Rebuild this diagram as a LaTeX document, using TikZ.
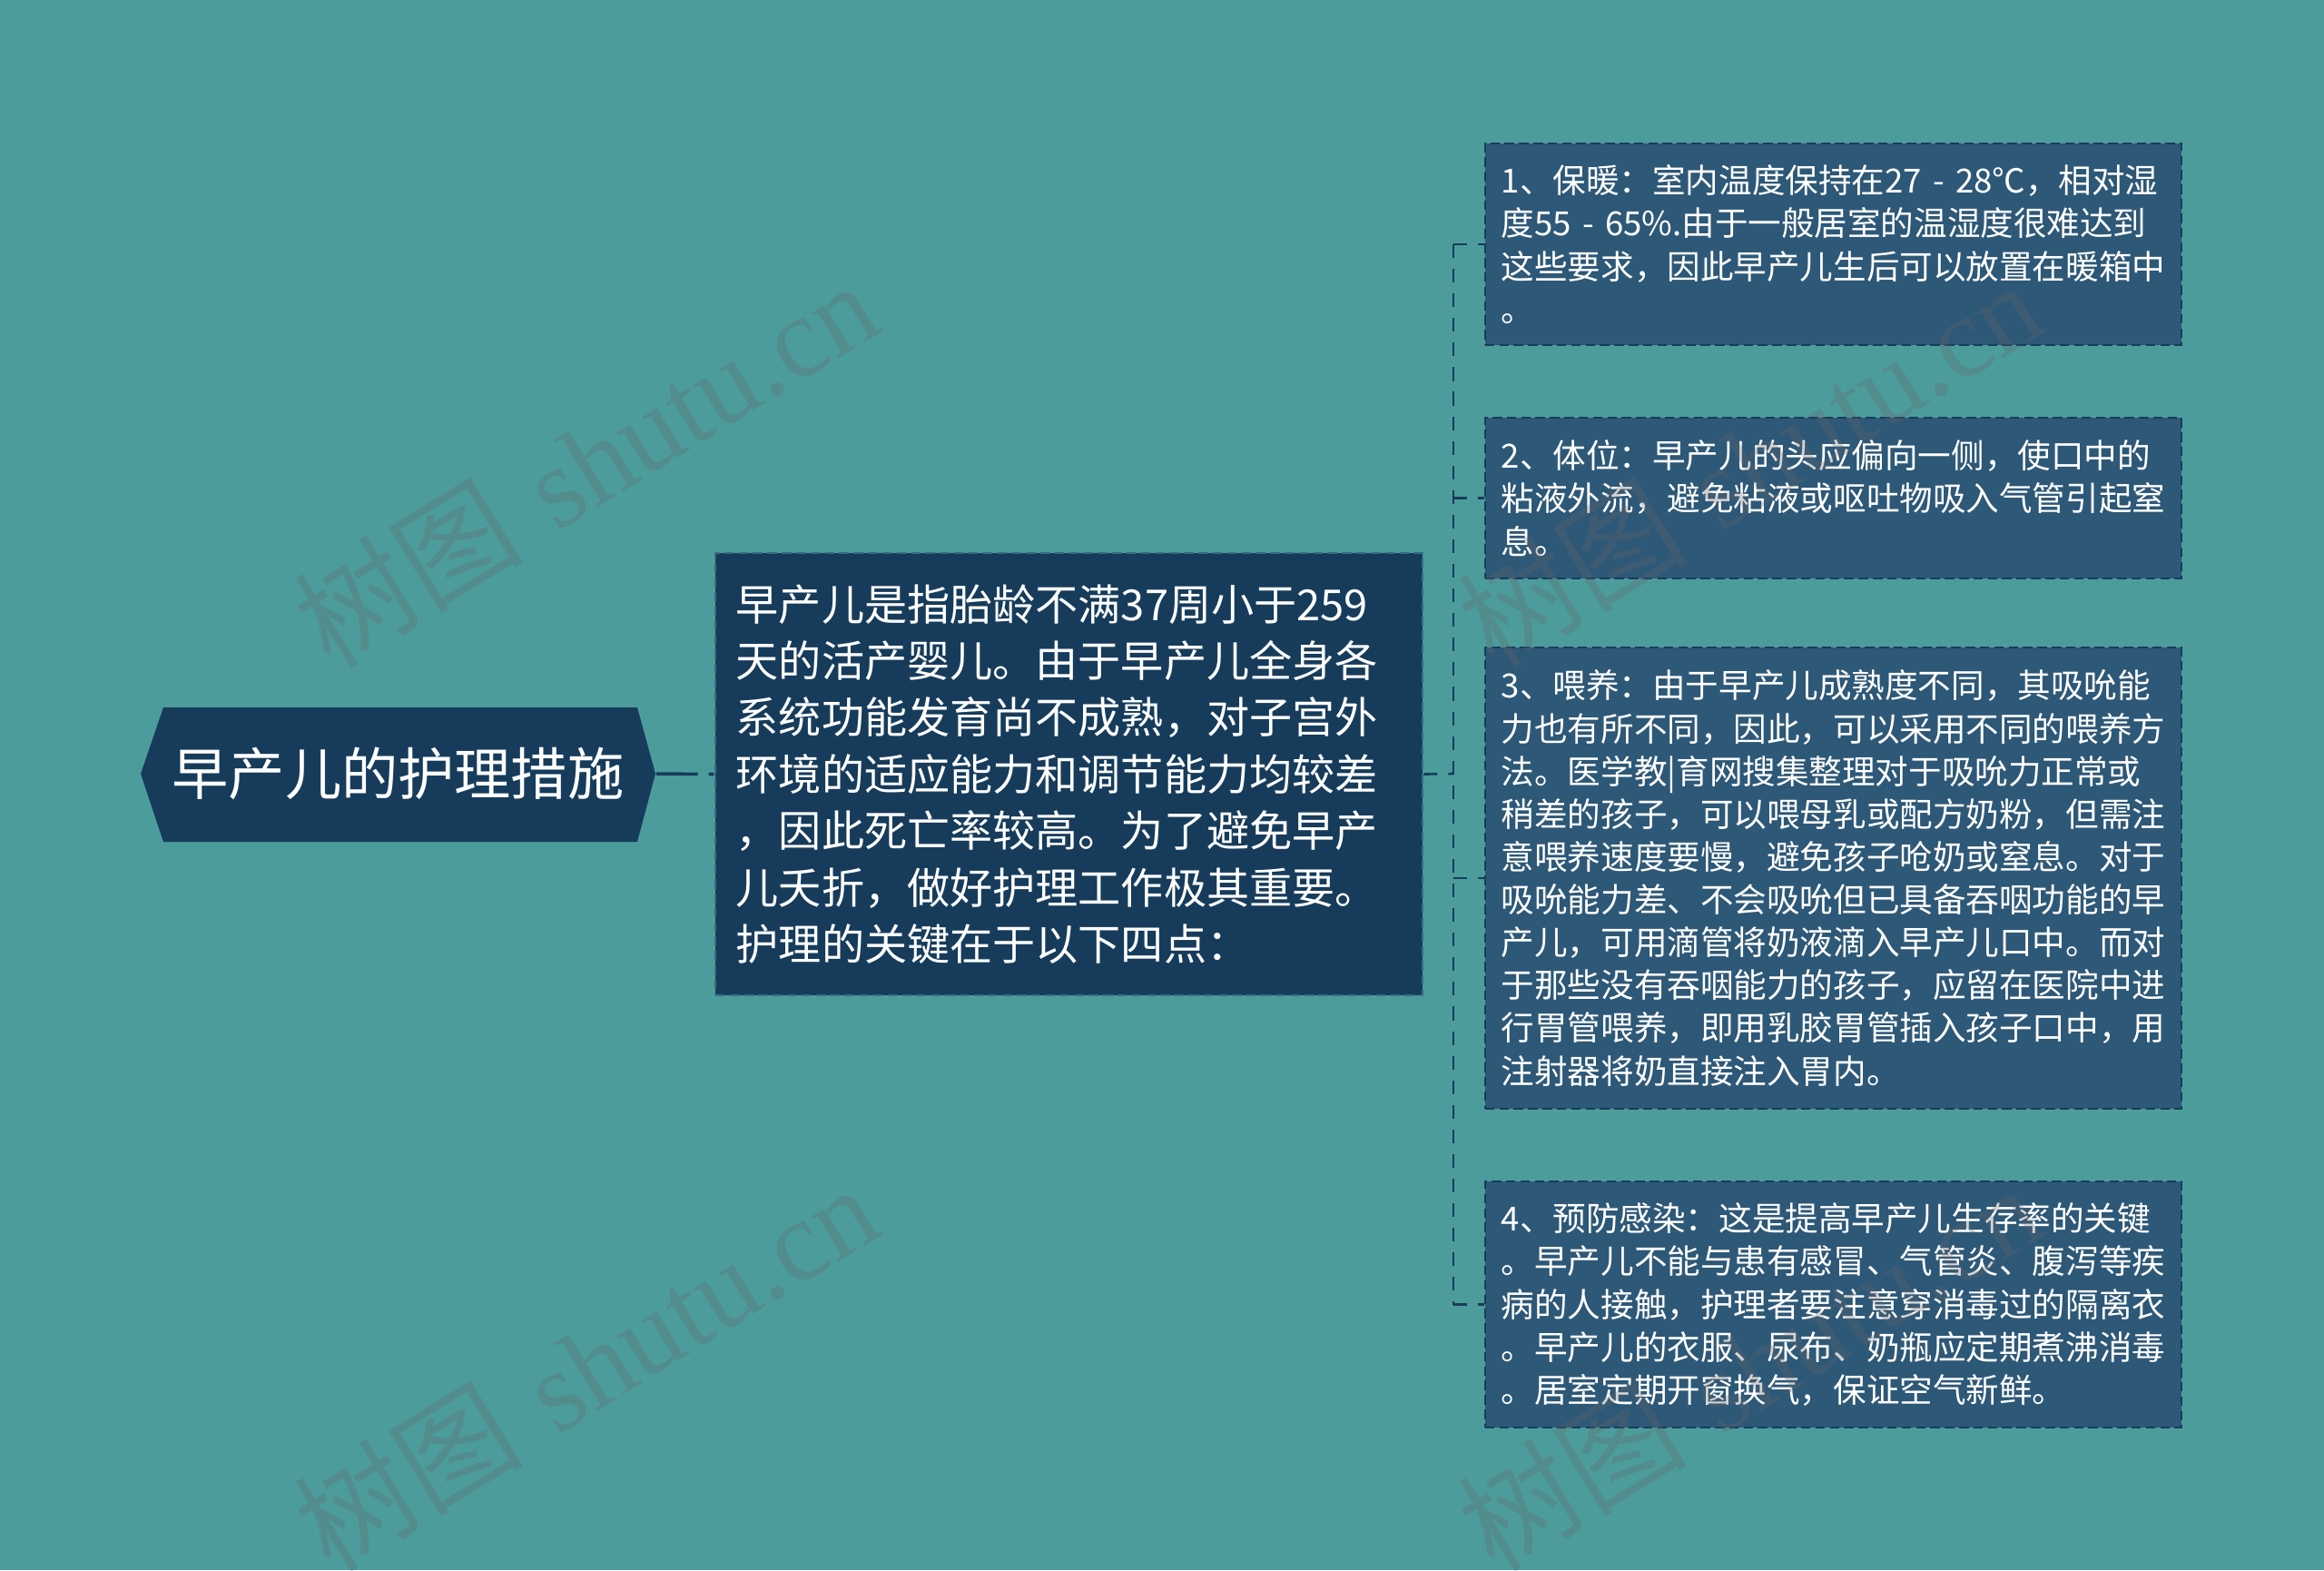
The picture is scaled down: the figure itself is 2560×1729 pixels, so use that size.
\documentclass[tikz,border=0pt]{standalone}
\usepackage{fontspec}
\newfontfamily\cjk{Noto Sans CJK SC}
\newfontfamily\wmserif{Liberation Serif}
\definecolor{bgteal}{HTML}{4D9C9C}
\definecolor{navy}{HTML}{173C5B}
\definecolor{steel}{HTML}{2E5877}
\definecolor{introline}{HTML}{356E82}
\begin{document}
\begin{tikzpicture}[x=0.01cm,y=-0.01cm,
  topic/.style={text=white,font=\cjk\fontsize{17.7}{21}\selectfont,
    minimum width=5.67cm,minimum height=1.48cm,inner sep=0pt},
  intro/.style={fill=navy,draw=introline,line width=0.6pt,
    dash pattern=on 3pt off 1.5pt,text=white,
    font=\cjk\fontsize{13.4}{17.75}\selectfont,text width=7.33cm,align=left,
    inner xsep=0.23cm,inner ysep=0pt,minimum height=4.87cm},
  item/.style={fill=steel,draw=navy,line width=0.6pt,
    dash pattern=on 3pt off 1.5pt,text=white,
    font=\cjk\fontsize{10.4}{13.4}\selectfont,text width=7.31cm,align=left,
    inner xsep=0.18cm,inner ysep=0pt},
  link/.style={draw=navy,line width=1pt,dash pattern=on 13pt off 3.4pt},
  branch/.style={draw=navy,line width=0.75pt,dash pattern=on 4.3pt off 3.4pt},
  wmark/.style={text=black!60,opacity=0.28,rotate=31.6,
    font=\fontsize{36}{40}\selectfont}]
  \fill[bgteal] (0,0) rectangle (2560,1729);
  \useasboundingbox (0,0) rectangle (2560,1729);

  \fill[navy] (155,852) -- (180,779) -- (702,779) -- (722,852)
    -- (702,927) -- (180,927) -- cycle;
  \node[topic] (root) at (438.5,852) {早产儿的护理措施};

  \node[intro] (desc) at (1177.5,852.5) {早产儿是指胎龄不满37周小于259\\
天的活产婴儿。由于早产儿全身各\\
系统功能发育尚不成熟，对子宫外\\
环境的适应能力和调节能力均较差\\
，因此死亡率较高。为了避免早产\\
儿夭折，做好护理工作极其重要。\\
护理的关键在于以下四点：};

  \node[item,minimum height=2.22cm] (warm) at (2019.5,269) {1、保暖：室内温度保持在27 - 28℃，相对湿\\
度55 - 65\%.由于一般居室的温湿度很难达到\\
这些要求，因此早产儿生后可以放置在暖箱中\\
。};
  \node[item,minimum height=1.77cm] (pose) at (2019.5,548.5) {2、体位：早产儿的头应偏向一侧，使口中的\\
粘液外流，避免粘液或呕吐物吸入气管引起窒\\
息。};
  \node[item,minimum height=5.08cm] (feed) at (2019.5,967) {3、喂养：由于早产儿成熟度不同，其吸吮能\\
力也有所不同，因此，可以采用不同的喂养方\\
法。医学教|育网搜集整理对于吸吮力正常或\\
稍差的孩子，可以喂母乳或配方奶粉，但需注\\
意喂养速度要慢，避免孩子呛奶或窒息。对于\\
吸吮能力差、不会吸吮但已具备吞咽功能的早\\
产儿，可用滴管将奶液滴入早产儿口中。而对\\
于那些没有吞咽能力的孩子，应留在医院中进\\
行胃管喂养，即用乳胶胃管插入孩子口中，用\\
注射器将奶直接注入胃内。};
  \node[item,minimum height=2.71cm] (infect) at (2019.5,1436.5) {4、预防感染：这是提高早产儿生存率的关键\\
。早产儿不能与患有感冒、气管炎、腹泻等疾\\
病的人接触，护理者要注意穿消毒过的隔离衣\\
。早产儿的衣服、尿布、奶瓶应定期煮沸消毒\\
。居室定期开窗换气，保证空气新鲜。};

  \coordinate (fork) at (1601,852);
  \draw[link] (root.east) -- (desc.west);
  \draw[branch] (desc.east) -- (fork);
  \draw[branch] (fork |- warm.west) -- (fork |- infect.west);
  \foreach \leaf in {warm,pose,feed,infect}
    \draw[branch] (fork |- \leaf.west) -- (\leaf.west);

  \foreach \wx/\wy in {645/510,1927/510,645/1505,1927/1505}
    \node[wmark] at (\wx,\wy) {{\cjk 树图} {\wmserif shutu.cn}};
\end{tikzpicture}
\end{document}
